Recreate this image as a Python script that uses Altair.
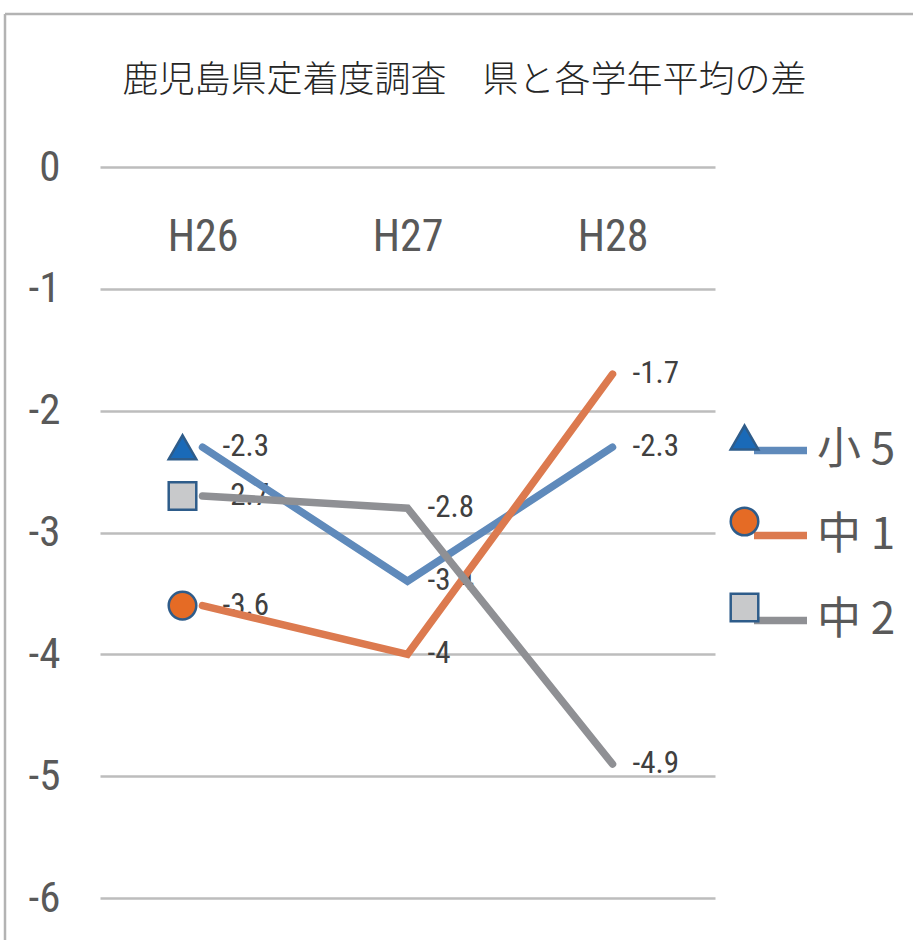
import altair as alt
import pandas as pd

# Survey years and the gap between each grade's average and the prefecture average
years = ["H26", "H27", "H28"]
grades = ["小 5", "中 1", "中 2"]
sho5 = [-2.3, -3.4, -2.3]
chu1 = [-3.6, -4.0, -1.7]
chu2 = [-2.7, -2.8, -4.9]
y_ticks = [0, -1, -2, -3, -4, -5, -6]

line_colors = ["#5f8abb", "#dc7a4f", "#8f9094"]
marker_fills = ["#1a6ab8", "#e56b25", "#c8c9cb"]
marker_shapes = ["triangle-up", "circle", "square"]

rows = []
for grade, vals in zip(grades, [sho5, chu1, chu2]):
    for yr, v in zip(years, vals):
        rows.append({"year": yr, "grade": grade, "marker": grade, "value": v,
                     "label": f"{v:g}"})
df = pd.DataFrame(rows)

NUM_FONT = "Liberation Sans Narrow, Roboto Condensed, DejaVu Sans Condensed, Noto Sans"
CJK_FONT = "Noto Sans CJK JP"

W, H = 615, 731
MARKER_SIZE = 760

x_enc = alt.X(
    "year:N",
    sort=years,
    scale=alt.Scale(type="point", padding=0.5),
    axis=alt.Axis(
        title=None, orient="bottom", offset=70 - H, domain=False, ticks=False,
        tickSize=0, labelPadding=0, labelBaseline="middle", labelAngle=0,
        labelFont=NUM_FONT, labelFontSize=44, labelColor="#595959", grid=False,
    ),
)
y_enc = alt.Y(
    "value:Q",
    scale=alt.Scale(domain=[-6, 0], nice=False, zero=False),
    axis=alt.Axis(
        title=None, values=y_ticks, domain=False, ticks=False, tickSize=0,
        labelPadding=40, labelFont=NUM_FONT, labelFontSize=43,
        labelColor="#595959", labelBaseline="middle", grid=True,
        gridColor="#bdbdbd", gridWidth=2.5, labelExpr="'' + datum.value",
    ),
)

base = alt.Chart(df)

labels = base.mark_text(
    align="left", baseline="middle", dx=20, font=NUM_FONT, fontSize=31,
    color="#404040",
).encode(x=x_enc, y=y_enc, text="label:N")

lines = base.mark_line(strokeWidth=7.5, strokeCap="round", strokeJoin="miter").encode(
    x=alt.X("year:N", sort=years),
    y=alt.Y("value:Q"),
    color=alt.Color(
        "grade:N",
        sort=grades,
        scale=alt.Scale(domain=grades, range=line_colors),
        legend=alt.Legend(
            title=None, orient="none", legendX=650, legendY=253, padding=0,
            symbolType="stroke", symbolSize=2809, symbolStrokeWidth=7.5,
            labelFont=CJK_FONT, labelFontSize=44, labelColor="#595959",
            labelOffset=6, rowPadding=32, labelBaseline="middle",
        ),
    ),
    detail="grade:N",
)

markers = base.transform_filter(alt.datum.year == years[0]).mark_point(
    filled=True, size=MARKER_SIZE, stroke="#2e5c8a", strokeWidth=2.5, opacity=1,
    xOffset=-20,
).encode(
    x=alt.X("year:N", sort=years),
    y=alt.Y("value:Q"),
    fill=alt.Fill(
        "marker:N",
        sort=grades,
        scale=alt.Scale(domain=grades, range=marker_fills),
        legend=alt.Legend(
            title=None, orient="none", legendX=629, legendY=255, padding=0,
            symbolSize=MARKER_SIZE, symbolStrokeColor="#2e5c8a",
            symbolStrokeWidth=2.5, symbolOpacity=1, labelExpr="''",
            labelFontSize=2, rowPadding=47, labelBaseline="middle",
        ),
    ),
    shape=alt.Shape(
        "marker:N",
        sort=grades,
        scale=alt.Scale(domain=grades, range=marker_shapes),
    ),
    stroke=alt.value("#2e5c8a"),
)

# Outer frame of the chart (top and left edges)
frame_top = alt.Chart().mark_rule(color="#b3b3b3", strokeWidth=2.5).encode(
    x=alt.value(-95), x2=alt.value(W + 198), y=alt.value(-153)
)
frame_left = alt.Chart().mark_rule(color="#b3b3b3", strokeWidth=2.5).encode(
    x=alt.value(-95), y=alt.value(-153), y2=alt.value(H + 42)
)

chart = (
    alt.layer(frame_top, frame_left, labels, lines, markers)
    .resolve_scale(color="independent", fill="independent", shape="independent")
    .resolve_legend(color="independent", fill="independent", shape="independent")
    .properties(
        width=W,
        height=H,
        background="white",
        autosize=alt.AutoSizeParams(type="none"),
        padding={"left": 100, "top": 167, "right": 198, "bottom": 42},
        title=alt.TitleParams(
            "鹿児島県定着度調査　県と各学年平均の差",
            font=CJK_FONT, fontSize=36, fontWeight=300, color="#262626",
            anchor="middle", dx=57, offset=-87,
        ),
    )
    .configure_view(strokeWidth=0, stroke="transparent")
)

chart.save("out.html", embed_options={"renderer": "svg", "actions": False})
